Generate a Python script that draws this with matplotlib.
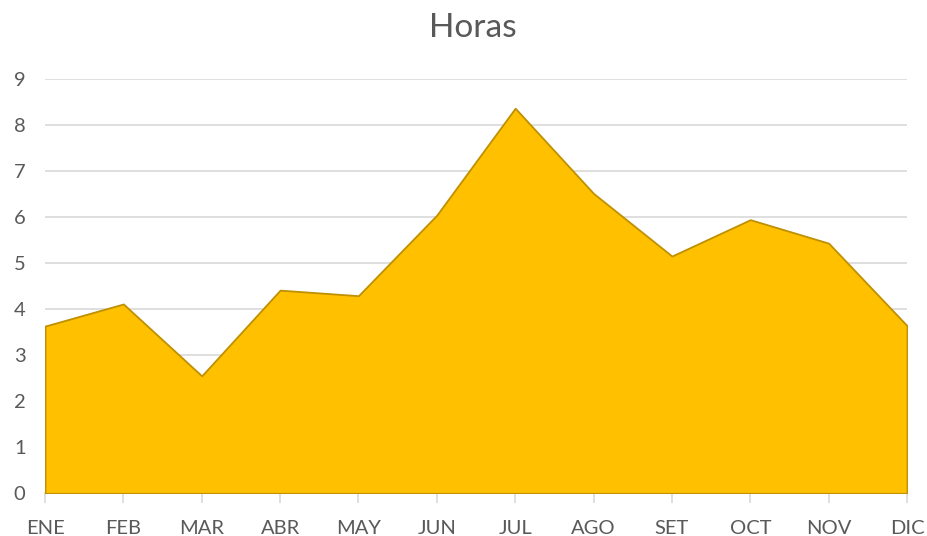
import matplotlib
matplotlib.use("Agg")
import matplotlib.pyplot as plt

months = ["ENE", "FEB", "MAR", "ABR", "MAY", "JUN", "JUL", "AGO", "SET", "OCT", "NOV", "DIC"]
horas = [3.63, 4.11, 2.55, 4.41, 4.29, 6.04, 8.36, 6.51, 5.15, 5.94, 5.43, 3.64]
yticks = list(range(0, 10))

plt.rcParams['font.family'] = ['Lato', 'DejaVu Sans']
fig = plt.figure(figsize=(9.27, 5.36), dpi=100)
ax = fig.add_axes([45/927, 1-493.3/536, (907-45)/927, (493.3-78.7)/536])

x = list(range(len(months)))
ax.fill_between(x, horas, 0, facecolor="#FFC000", edgecolor="#BF9000", linewidth=1.3, zorder=3)

ax.set_xlim(0, len(months)-1)
ax.set_ylim(0, 9)
ax.set_yticks(yticks)
ax.set_xticks(x)
ax.set_xticklabels(months)
ax.grid(axis='y', color="#D9D9D9", linewidth=1.2, zorder=0)
ax.set_axisbelow(True)
for s in ["left", "right", "top"]:
    ax.spines[s].set_visible(False)
ax.spines["bottom"].set_color("#D9D9D9")
ax.spines["bottom"].set_linewidth(1.2)
ax.tick_params(axis='y', length=0, pad=14, labelsize=14.5, labelcolor="#595959")
ax.tick_params(axis='x', length=7, width=1.2, color="#D9D9D9", pad=12, labelsize=14.5, labelcolor="#595959")
fig.text(473/927, 1-28/536, "Horas", ha="center", va="center", fontsize=24, color="#595959")
fig.savefig("out.png", dpi=100)
